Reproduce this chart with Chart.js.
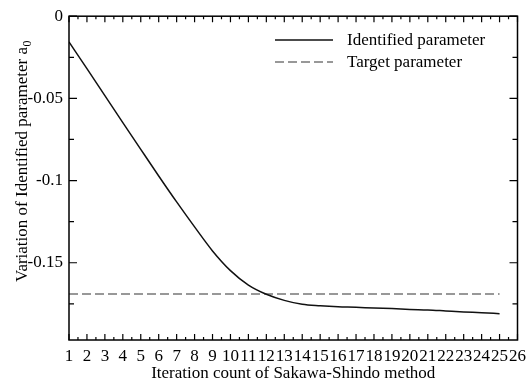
<!DOCTYPE html>
<html>
<head>
<meta charset="utf-8">
<script src="https://cdn.jsdelivr.net/npm/chart.js@4.4.0/dist/chart.umd.min.js"></script>
<style>
  body { margin: 0; background: #fff; }
  canvas { display: block; }
</style>
</head>
<body>
<canvas id="lineChart" width="532" height="387"></canvas>
<script>
// iteration counts of the Sakawa-Shindo method
const iterations = [1, 2, 3, 4, 5, 6, 7, 8, 9, 10, 11, 12, 13, 14, 15, 16, 17, 18, 19, 20, 21, 22, 23, 24, 25];
// identified parameter a0
const identified = [-0.0157, -0.0319, -0.0483, -0.0647, -0.0810, -0.0972, -0.1130, -0.1282, -0.1428, -0.1548,
                    -0.1636, -0.1692, -0.1729, -0.1753, -0.1762, -0.1768, -0.1771, -0.1776, -0.1779, -0.1784,
                    -0.1787, -0.1793, -0.1799, -0.1804, -0.1810];
const targetValue = -0.169;
const targetStart = 1;
const targetEnd = 25;

const xTicks = [1, 2, 3, 4, 5, 6, 7, 8, 9, 10, 11, 12, 13, 14, 15, 16, 17, 18, 19, 20, 21, 22, 23, 24, 25, 26];
const yTicks = [0, -0.05, -0.1, -0.15];
const yTickLabels = ["0", "-0.05", "-0.1", "-0.15"];
const yMinorTicks = [-0.025, -0.075, -0.125, -0.175];

const xTitle = "Iteration count of Sakawa-Shindo method";
const yTitle = "Variation of Identified parameter a";
const yTitleSub = "0";

const FONT = "'Liberation Serif', 'Times New Roman', serif";

/**
 * Draws the box around the plot, the inward tick marks,
 * the rotated y title with its subscript and the legend.
 */
const framePlugin = {
    id: "frame",
    afterDraw(chart) {
        const ctx = chart.ctx;
        const area = chart.chartArea;
        const x = chart.scales.x;
        const y = chart.scales.y;
        ctx.save();
        ctx.strokeStyle = "#000";
        ctx.lineWidth = 1.5;
        ctx.strokeRect(area.left, area.top, area.right - area.left, area.bottom - area.top);

        ctx.lineWidth = 1.2;
        ctx.beginPath();
        for (let i = 0; i < xTicks.length; i++) {
            const px = x.getPixelForValue(xTicks[i]);
            ctx.moveTo(px, area.bottom); ctx.lineTo(px, area.bottom - 6);
            ctx.moveTo(px, area.top); ctx.lineTo(px, area.top + 6);
            if (i < xTicks.length - 1) {
                const mx = x.getPixelForValue(xTicks[i] + 0.5);
                ctx.moveTo(mx, area.bottom); ctx.lineTo(mx, area.bottom - 3);
                ctx.moveTo(mx, area.top); ctx.lineTo(mx, area.top + 3);
            }
        }
        for (const v of yTicks) {
            const py = y.getPixelForValue(v);
            ctx.moveTo(area.left, py); ctx.lineTo(area.left + 8, py);
            ctx.moveTo(area.right, py); ctx.lineTo(area.right - 8, py);
        }
        for (const v of yMinorTicks) {
            const py = y.getPixelForValue(v);
            ctx.moveTo(area.left, py); ctx.lineTo(area.left + 5, py);
            ctx.moveTo(area.right, py); ctx.lineTo(area.right - 5, py);
        }
        ctx.stroke();

        // y title, rotated, with subscript
        ctx.fillStyle = "#000";
        ctx.translate(27, 282);
        ctx.rotate(-Math.PI / 2);
        ctx.font = "17px " + FONT;
        ctx.textBaseline = "alphabetic";
        ctx.textAlign = "left";
        ctx.fillText(yTitle, 0, 0);
        const w = ctx.measureText(yTitle).width;
        ctx.font = "12px " + FONT;
        ctx.fillText(yTitleSub, w + 0.5, 4);
        ctx.restore();

        // legend
        ctx.save();
        ctx.font = "17px " + FONT;
        ctx.textBaseline = "middle";
        ctx.textAlign = "left";
        const rows = [40, 62];
        chart.data.datasets.forEach((ds, i) => {
            ctx.strokeStyle = ds.borderColor;
            ctx.lineWidth = ds.borderWidth;
            ctx.setLineDash(ds.borderDash || []);
            ctx.beginPath();
            ctx.moveTo(275, rows[i]);
            ctx.lineTo(333, rows[i]);
            ctx.stroke();
            ctx.fillStyle = "#000";
            ctx.fillText(ds.label, 347, rows[i] + 1);
        });
        ctx.restore();
    }
};

function showLineChart() {
    const ctx = document.getElementById("lineChart");
    new Chart(ctx, {
        type: "line",
        data: {
            datasets: [{
                label: "Identified parameter",
                data: iterations.map((n, i) => ({ x: n, y: identified[i] })),
                borderColor: "#111",
                borderWidth: 1.5,
                pointRadius: 0,
                fill: false,
                cubicInterpolationMode: "monotone"
            }, {
                label: "Target parameter",
                data: [{ x: targetStart, y: targetValue }, { x: targetEnd, y: targetValue }],
                borderColor: "#777",
                borderWidth: 1.5,
                borderDash: [9, 4],
                pointRadius: 0,
                fill: false
            }]
        },
        options: {
            responsive: false,
            animation: false,
            devicePixelRatio: 1,
            layout: { padding: { top: 14, right: 10, left: 0, bottom: 0 } },
            plugins: {
                legend: { display: false },
                tooltip: { enabled: false }
            },
            scales: {
                x: {
                    type: "linear",
                    min: 1,
                    max: 26,
                    afterBuildTicks: (scale) => { scale.ticks = xTicks.map(v => ({ value: v })); },
                    afterFit: (scale) => { scale.height = 47; },
                    grid: { display: false, drawTicks: false, tickLength: 0 },
                    border: { display: false },
                    ticks: {
                        color: "#000",
                        padding: 6,
                        maxRotation: 0,
                        autoSkip: false,
                        font: { family: FONT, size: 17 }
                    },
                    title: {
                        display: true,
                        text: xTitle,
                        color: "#000",
                        font: { family: FONT, size: 17 },
                        padding: { top: 0, bottom: 3 }
                    }
                },
                y: {
                    type: "linear",
                    min: -0.197,
                    max: 0,
                    afterBuildTicks: (scale) => { scale.ticks = yTicks.map(v => ({ value: v })); },
                    afterFit: (scale) => { scale.width = 69; },
                    grid: { display: false, drawTicks: false, tickLength: 0 },
                    border: { display: false },
                    ticks: {
                        color: "#000",
                        padding: 6,
                        font: { family: FONT, size: 17 },
                        callback: (value) => yTickLabels[yTicks.indexOf(value)]
                    }
                }
            }
        },
        plugins: [framePlugin]
    });
}

showLineChart();
</script>
</body>
</html>
